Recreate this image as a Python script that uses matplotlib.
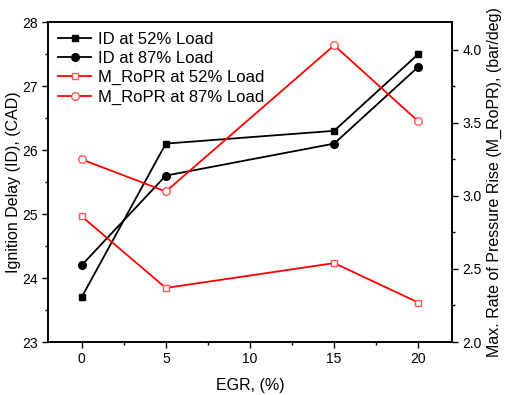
import matplotlib
matplotlib.use("Agg")
import matplotlib.pyplot as plt
from matplotlib.ticker import MultipleLocator

plt.rcParams['font.family'] = ['Liberation Sans', 'DejaVu Sans']

egr = [0, 5, 15, 20]
id_52 = [23.7, 26.1, 26.3, 27.5]
id_87 = [24.2, 25.6, 26.1, 27.3]
ropr_52 = [2.86, 2.37, 2.54, 2.27]
ropr_87 = [3.25, 3.03, 4.03, 3.51]

fig = plt.figure(figsize=(5.05, 3.95), dpi=100)
ax = fig.add_axes([48 / 505, 1 - 342 / 395, (452 - 48) / 505, (342 - 22) / 395])
ax2 = ax.twinx()

l1, = ax.plot(egr, id_52, color='black', marker='s', ms=4.8, lw=1.3, label='ID at 52% Load')
l2, = ax.plot(egr, id_87, color='black', marker='o', ms=5.5, lw=1.3, label='ID at 87% Load')
l3, = ax2.plot(egr, ropr_52, color='red', marker='s', ms=4.8, lw=1.3, mfc='white',
               mec='#ff5555', label='M_RoPR at 52% Load')
l4, = ax2.plot(egr, ropr_87, color='red', marker='o', ms=5.5, lw=1.3, mfc='white',
               mec='#ff5555', label='M_RoPR at 87% Load')

ax.set_xlim(-2, 22)
ax.set_ylim(23, 28)
ax2.set_ylim(2.0, 4.19)

ax.xaxis.set_major_locator(MultipleLocator(5))
ax.xaxis.set_minor_locator(MultipleLocator(2.5))
ax.yaxis.set_major_locator(MultipleLocator(1))
ax.yaxis.set_minor_locator(MultipleLocator(0.5))
ax2.yaxis.set_major_locator(MultipleLocator(0.5))
ax2.yaxis.set_minor_locator(MultipleLocator(0.25))
ax2.yaxis.set_major_formatter(plt.FormatStrFormatter('%.1f'))

for a in (ax, ax2):
    a.tick_params(which='major', direction='out', length=4, width=1, labelsize=10)
    a.tick_params(which='minor', direction='out', length=2.5, width=1)
    for s in a.spines.values():
        s.set_linewidth(1.2)

ax.set_xlabel('EGR, (%)', fontsize=11.5, labelpad=8)
ax.set_ylabel('Ignition Delay (ID), (CAD)', fontsize=11.5, labelpad=1)
ax2.set_ylabel('Max. Rate of Pressure Rise (M_RoPR), (bar/deg)', fontsize=11.5, labelpad=4)

ax.legend(handles=[l1, l2, l3, l4], loc='upper left', frameon=False, fontsize=12,
          handlelength=2.0, borderaxespad=0.2, labelspacing=0.25, handletextpad=0.4)

fig.savefig('out.png', dpi=100)
